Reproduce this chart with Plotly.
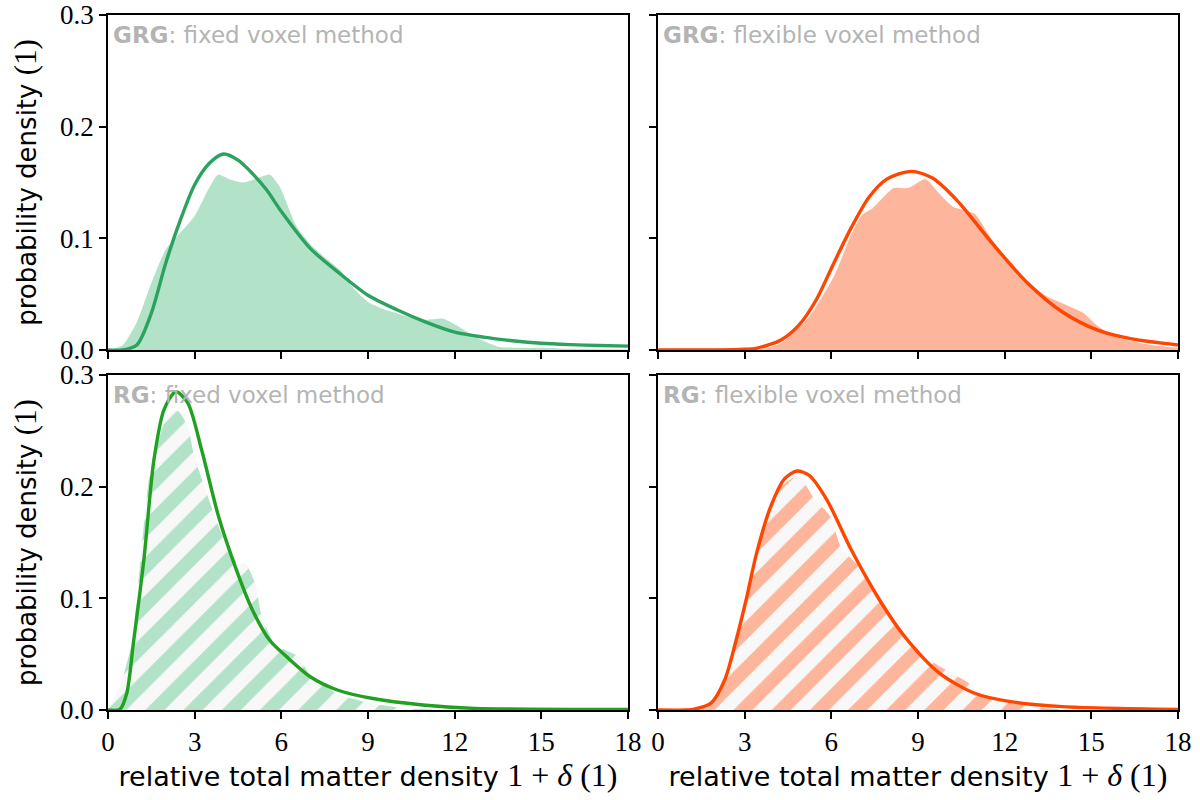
import plotly.graph_objects as go
from plotly.subplots import make_subplots

# GRG, fixed voxel method (top left)
grg_fixed_fit_x = [0, 0.5, 1.0, 1.5, 2.0, 2.5, 3.0, 3.5, 4.0, 4.5, 5.0, 5.5, 6.0, 7.0, 8.0, 9.0,
                   10.0, 11.0, 12.0, 13.0, 14.0, 15.0, 16.0, 17.0, 18.0]
grg_fixed_fit_y = [0, 0.0, 0.0045, 0.033, 0.078, 0.116, 0.148, 0.167, 0.1755, 0.170, 0.158, 0.143,
                   0.124, 0.091, 0.069, 0.049, 0.036, 0.025, 0.016, 0.0115, 0.0083, 0.006, 0.0048,
                   0.004, 0.0035]
grg_fixed_kde_x = [0, 0.5, 1.0, 1.5, 2.0, 2.5, 3.0, 3.5, 3.8, 4.2, 4.7, 5.2, 5.6, 5.95, 6.5, 7.0,
                   7.5, 8.0, 8.5, 9.0, 9.5, 10.0, 10.5, 11.0, 11.6, 12.0, 12.5, 13.0, 13.5, 14.0,
                   15.0, 16.0, 18.0]
grg_fixed_kde_y = [0, 0.004, 0.025, 0.060, 0.090, 0.105, 0.120, 0.145, 0.157, 0.153, 0.150, 0.154,
                   0.157, 0.146, 0.112, 0.095, 0.083, 0.072, 0.055, 0.043, 0.037, 0.033, 0.029,
                   0.027, 0.028, 0.023, 0.015, 0.008, 0.003, 0.002, 0.002, 0.001, 0.0005]

# GRG, flexible voxel method (top right)
grg_flex_fit_x = [0, 1.0, 2.0, 3.0, 3.4, 4.26, 4.87, 5.48, 6.09, 6.7, 7.31, 7.92, 8.77, 9.5, 10.35,
                  11.57, 12.79, 14.0, 15.2, 16.4, 18.0]
grg_flex_fit_y = [0, 0, 0, 0.0006, 0.0015, 0.009, 0.022, 0.045, 0.078, 0.110, 0.137, 0.153, 0.160,
                  0.154, 0.134, 0.0955, 0.060, 0.034, 0.018, 0.0099, 0.0045]
grg_flex_kde_x = [0, 3.0, 3.6, 4.26, 5.24, 6.09, 6.7, 7.06, 7.43, 8.16, 8.65, 9.26, 9.74, 10.23,
                  10.96, 11.57, 12.55, 13.4, 14.25, 14.74, 15.2, 15.8, 17.05, 18.0]
grg_flex_kde_y = [0, 0, 0.001, 0.006, 0.030, 0.066, 0.104, 0.121, 0.127, 0.145, 0.145, 0.153,
                  0.140, 0.128, 0.122, 0.0985, 0.067, 0.049, 0.039, 0.033, 0.022, 0.012, 0.0045,
                  0.002]

# RG, fixed voxel method (bottom left)
rg_fixed_fit_x = [0, 0.41, 0.65, 0.88, 1.24, 1.59, 1.94, 2.35, 2.76, 3.24, 3.83, 4.41, 5.0, 5.59,
                  6.18, 7.0, 7.94, 9.12, 10.9, 12.7, 18.0]
rg_fixed_fit_y = [0, 0.0005, 0.015, 0.060, 0.134, 0.224, 0.269, 0.285, 0.275, 0.233, 0.173, 0.128,
                  0.0896, 0.0627, 0.0478, 0.0298, 0.0179, 0.0105, 0.0045, 0.0015, 0.0005]
rg_fixed_kde_x = [0, 0.06, 0.41, 0.82, 1.47, 2.06, 2.41, 2.76, 2.99, 3.34, 3.93, 4.5, 4.76, 5.1,
                  5.3, 5.76, 6.35, 6.6, 6.95, 7.9, 9.1, 10.3, 12.0, 18.0]
rg_fixed_kde_y = [0, 0.003, 0.021, 0.060, 0.215, 0.263, 0.268, 0.254, 0.227, 0.200, 0.158, 0.131,
                  0.131, 0.113, 0.086, 0.060, 0.051, 0.048, 0.033, 0.015, 0.006, 0.0015, 0, 0]

# RG, flexible voxel method (bottom right)
rg_flex_fit_x = [0, 1.0, 1.22, 1.83, 2.31, 2.68, 3.05, 3.41, 3.9, 4.38, 4.81, 5.24, 5.85, 6.7,
                 7.67, 8.53, 9.74, 10.96, 12.2, 14.0, 18.0]
rg_flex_fit_y = [0, 0, 0.0006, 0.006, 0.027, 0.060, 0.0985, 0.140, 0.182, 0.207, 0.214, 0.210,
                 0.188, 0.143, 0.0985, 0.066, 0.033, 0.015, 0.0075, 0.003, 0.0006]
rg_flex_kde_x = [0, 1.2, 1.58, 2.0, 2.5, 3.05, 3.78, 4.26, 4.87, 5.36, 5.97, 6.33, 7.19, 7.92,
                 8.65, 9.38, 10.1, 10.7, 11.3, 12.2, 13.4, 15.0, 18.0]
rg_flex_kde_y = [0, 0, 0.003, 0.012, 0.040, 0.0925, 0.179, 0.200, 0.210, 0.191, 0.173, 0.146,
                 0.122, 0.0866, 0.0627, 0.045, 0.034, 0.025, 0.012, 0.006, 0.0015, 0, 0]

panel_labels = [["GRG", "fixed voxel method"], ["GRG", "flexible voxel method"],
                ["RG", "fixed voxel method"], ["RG", "flexible voxel method"]]

green_fill = "#b2e2c8"
orange_fill = "#fdb59b"
hatch_bg = "#f8f8f8"

sans = "DejaVu Sans"
serif = "Liberation Serif"

fig = make_subplots(rows=2, cols=2, horizontal_spacing=0.028, vertical_spacing=0.036)

panels = [
    (1, 1, grg_fixed_kde_x, grg_fixed_kde_y, grg_fixed_fit_x, grg_fixed_fit_y, green_fill, "#2ca25f", False),
    (1, 2, grg_flex_kde_x, grg_flex_kde_y, grg_flex_fit_x, grg_flex_fit_y, orange_fill, "#ff4500", False),
    (2, 1, rg_fixed_kde_x, rg_fixed_kde_y, rg_fixed_fit_x, rg_fixed_fit_y, green_fill, "#22a022", True),
    (2, 2, rg_flex_kde_x, rg_flex_kde_y, rg_flex_fit_x, rg_flex_fit_y, orange_fill, "#ff4500", True),
]

for row, col, kx, ky, fx, fy, fcol, lcol, hatched in panels:
    if hatched:
        fig.add_trace(go.Scatter(
            x=kx, y=ky, mode="lines", line=dict(width=0, shape="spline", smoothing=0.6),
            fill="tozeroy", fillcolor=hatch_bg,
            fillpattern=dict(shape="/", size=27, solidity=0.5, fgcolor=fcol,
                             bgcolor=hatch_bg, fgopacity=1),
            showlegend=False, hoverinfo="skip"), row=row, col=col)
    else:
        fig.add_trace(go.Scatter(
            x=kx, y=ky, mode="lines", line=dict(width=0, shape="spline", smoothing=0.6),
            fill="tozeroy", fillcolor=fcol, showlegend=False, hoverinfo="skip"),
            row=row, col=col)
    fig.add_trace(go.Scatter(
        x=fx, y=fy, mode="lines", line=dict(color=lcol, width=3.4, shape="spline", smoothing=0.8),
        showlegend=False), row=row, col=col)

for i, (bold, rest) in enumerate(panel_labels):
    xref = "x domain" if i == 0 else f"x{i + 1} domain"
    yref = "y domain" if i == 0 else f"y{i + 1} domain"
    fig.add_annotation(
        x=0.005, y=0.985, xref=xref, yref=yref, xanchor="left", yanchor="top",
        text=f"<b>{bold}</b>: {rest}", showarrow=False,
        font=dict(family=sans, size=23, color="#b4b4b4"))

axis_common = dict(showline=True, linecolor="black", linewidth=1.5, mirror=True,
                   ticks="outside", ticklen=7, tickwidth=1.5, tickcolor="black",
                   showgrid=False, zeroline=False, automargin=False,
                   tickfont=dict(family=serif, size=27, color="black"))

for row in (1, 2):
    for col in (1, 2):
        fig.update_xaxes(range=[0, 18], tick0=0, dtick=3, showticklabels=(row == 2),
                         row=row, col=col, **axis_common)
        fig.update_yaxes(range=[0, 0.3], tick0=0, dtick=0.1, tickformat=".1f",
                         showticklabels=(col == 1), row=row, col=col, **axis_common)

xtitle = ("relative total matter density "
          f"<span style='font-family:{serif};font-size:32px'>1 + <i>δ</i> (1)</span>")
for col in (1, 2):
    fig.update_xaxes(title=dict(text=xtitle, font=dict(family=sans, size=27, color="black"),
                                standoff=7), row=2, col=col)
ytitle = ("probability density "
          f"<span style='font-family:{serif};font-size:31px'>(1)</span>")
for row in (1, 2):
    fig.update_yaxes(title=dict(text=ytitle, font=dict(family=sans, size=26, color="black"),
                                standoff=16), row=row, col=1)

fig.update_layout(
    width=1200, height=800,
    margin=dict(l=108, r=22, t=15, b=90),
    plot_bgcolor="white", paper_bgcolor="white",
    font=dict(family=sans, color="black"),
)

# drop the default body margin so the figure sits at the page corner
fig.write_html("out.html", config={"displayModeBar": False},
               post_script="document.body.style.margin = '0';")
